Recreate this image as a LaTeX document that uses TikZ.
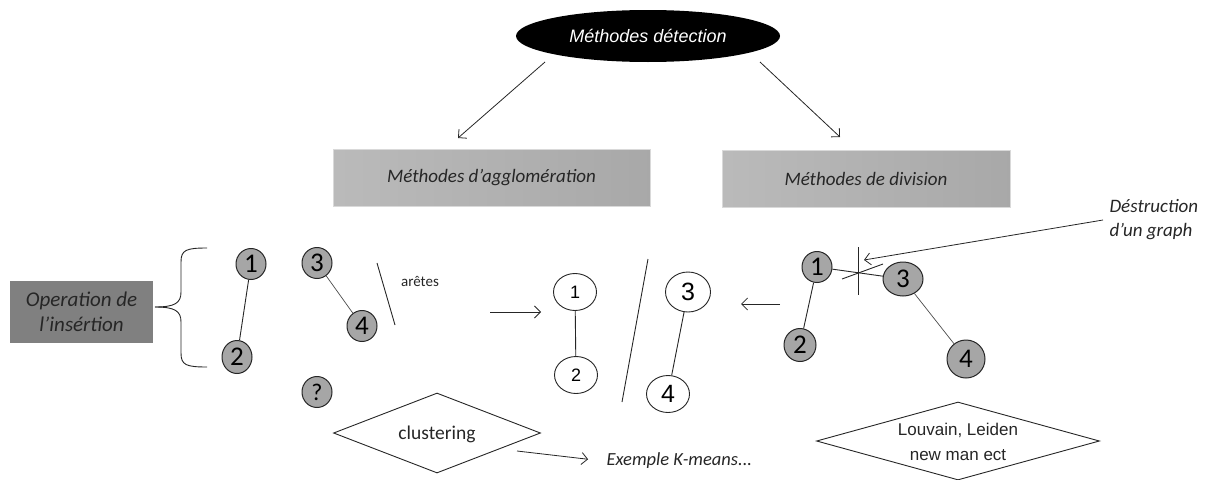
\documentclass[tikz,border=0pt]{standalone}
\usepackage{fontspec}
\setmainfont{Carlito}
\newfontfamily\arialf{Liberation Sans}
\usetikzlibrary{shapes.geometric,arrows.meta}
\begin{document}
\begin{tikzpicture}[x=1pt,y=-1pt,
  gnode/.style={ellipse,draw=black!85,fill=black!35,line width=1pt,inner sep=0pt,
    minimum width=30pt,minimum height=31pt,font=\fontsize{27}{27}\selectfont},
  wnode/.style={ellipse,draw=black!85,fill=white,line width=0.9pt,inner sep=0pt,
    minimum width=43pt,minimum height=37pt,font=\arialf\fontsize{25}{25}\selectfont},
  gbox/.style={rectangle,draw=black!15,left color=black!27,right color=black!34,
    inner sep=0pt,font=\itshape\fontsize{19}{19}\selectfont,text=black!85},
  arr/.style={-{Straight Barb[length=6pt,width=12pt]},line width=0.8pt,draw=black!85},
  edge/.style={line width=0.9pt,draw=black!85},
  thinedge/.style={line width=0.7pt,draw=black!70},
  diam/.style={diamond,draw=black!85,line width=0.9pt,fill=white,inner sep=0pt,aspect=2.6}
]
\useasboundingbox (0,0) rectangle (1214,479);

% top ellipse
\node[ellipse,fill=black,minimum width=264pt,minimum height=52pt,inner sep=0pt,
  font=\arialf\itshape\fontsize{18}{18}\selectfont,text=white] (top) at (648,36) {Méthodes détection};

% method boxes
\node[gbox,minimum width=317pt,minimum height=57pt] (agg) at (491.5,177.5) {Méthodes d'agglomération};
\node[gbox,minimum width=288pt,minimum height=57pt] (div) at (866,178.5) {Méthodes de division};

\coordinate (t1) at (545,62);
\coordinate (t1e) at (458,138);
\coordinate (t2) at (760,62);
\coordinate (t2e) at (840,137);
\draw[arr] (t1) -- (t1e);
\draw[arr] (t2) -- (t2e);

% operation box
\node[rectangle,fill=black!50,minimum width=143pt,minimum height=62pt,inner sep=0pt,align=center,
  font=\itshape\fontsize{21}{25}\selectfont,text=black!85] (op) at (81.5,312) {Operation de\\l’insértion};

% brace
\coordinate (bt) at (207,248);
\coordinate (bb) at (207,367);
\coordinate (btip) at (155,307);
\draw[line width=0.9pt,draw=black!85]
  (bt) .. controls (186,248) and (181,250) .. (181,262) -- (181,292)
  .. controls (181,303) and (175,307) .. (btip);
\draw[line width=0.9pt,draw=black!85]
  (bb) .. controls (186,367) and (181,365) .. (181,353) -- (181,322)
  .. controls (181,311) and (175,307) .. (btip);

% left graph
\node[gnode] (l1) at (251,264) {1};
\node[gnode,minimum height=33pt] (l2) at (237,357) {2};
\node[gnode] (l3) at (317,263) {3};
\node[gnode] (l4) at (362,326) {4};
\node[gnode,font=\fontsize{24}{24}\selectfont] (lq) at (317,392) {?};
\draw[edge] (l1) -- (l2);
\draw[thinedge] (l3) -- (l4);
\coordinate (s1a) at (377,263);
\coordinate (s1b) at (395,325);
\draw[edge] (s1a) -- (s1b);
\node[font=\fontsize{15}{15}\selectfont,text=black!85] (aretes) at (420,281) {arêtes};

% middle graph
\coordinate (m1s) at (490,312);
\coordinate (m1e) at (541,312);
\draw[arr] (m1s) -- (m1e);
\node[wnode,font=\arialf\fontsize{18}{18}\selectfont] (w1) at (575,292) {1};
\node[wnode,font=\arialf\fontsize{18}{18}\selectfont] (w2) at (576,375) {2};
\node[wnode,minimum width=45pt,minimum height=40pt] (w3) at (688,292) {3};
\node[wnode] (w4) at (668,394) {4};
\draw[edge] (w1) -- (w2);
\draw[edge] (w3) -- (w4);
\coordinate (s2a) at (648,259);
\coordinate (s2b) at (622,402);
\draw[edge] (s2a) -- (s2b);
\coordinate (m2s) at (780,304);
\coordinate (m2e) at (741,304);
\draw[arr] (m2s) -- (m2e);

% right graph
\node[gnode] (r1) at (817,267) {1};
\node[gnode,minimum width=32pt,minimum height=33pt] (r2) at (800,345) {2};
\node[gnode,minimum width=40pt,minimum height=34pt] (r3) at (903,279) {3};
\node[gnode,minimum width=38pt,minimum height=38pt] (r4) at (966,359) {4};
\draw[edge] (r1) -- (r2);
\draw[edge] (r1) -- (r3);
\draw[thinedge] (r3) -- (r4);
\coordinate (cxa) at (858,247);
\coordinate (cxb) at (858,295);
\coordinate (cya) at (842,279);
\coordinate (cyb) at (883,264);
\draw[edge] (cxa) -- (cxb);
\draw[edge] (cya) -- (cyb);
\node[align=left,font=\itshape\fontsize{19}{24}\selectfont,text=black!85,anchor=west] (destr) at (1106,220) {Déstruction\\d’un graph};
\coordinate (ds) at (1103,220);
\coordinate (de) at (864,260);
\draw[arr] (ds) -- (de);

% bottom diamonds
\node[diam,minimum width=207pt,minimum height=80pt] (clu) at (437,433) {};
\node[font=\fontsize{19.5}{19.5}\selectfont,text=black!85] (clut) at (437,434) {clustering};
\coordinate (ks) at (517,451);
\node[anchor=west,font=\itshape\fontsize{18.5}{18.5}\selectfont,text=black!85] (km) at (603,461) {Exemple K-means...};
\draw[arr,shorten >=15pt] (ks) -- (km.west);
\node[diam,minimum width=283pt,minimum height=78pt] (louv) at (958,441) {};
\node[align=center,font=\arialf\fontsize{17}{25}\selectfont,text=black!85] (louvt) at (958,442) {Louvain, Leiden\\new man ect};
\end{tikzpicture}
\end{document}
